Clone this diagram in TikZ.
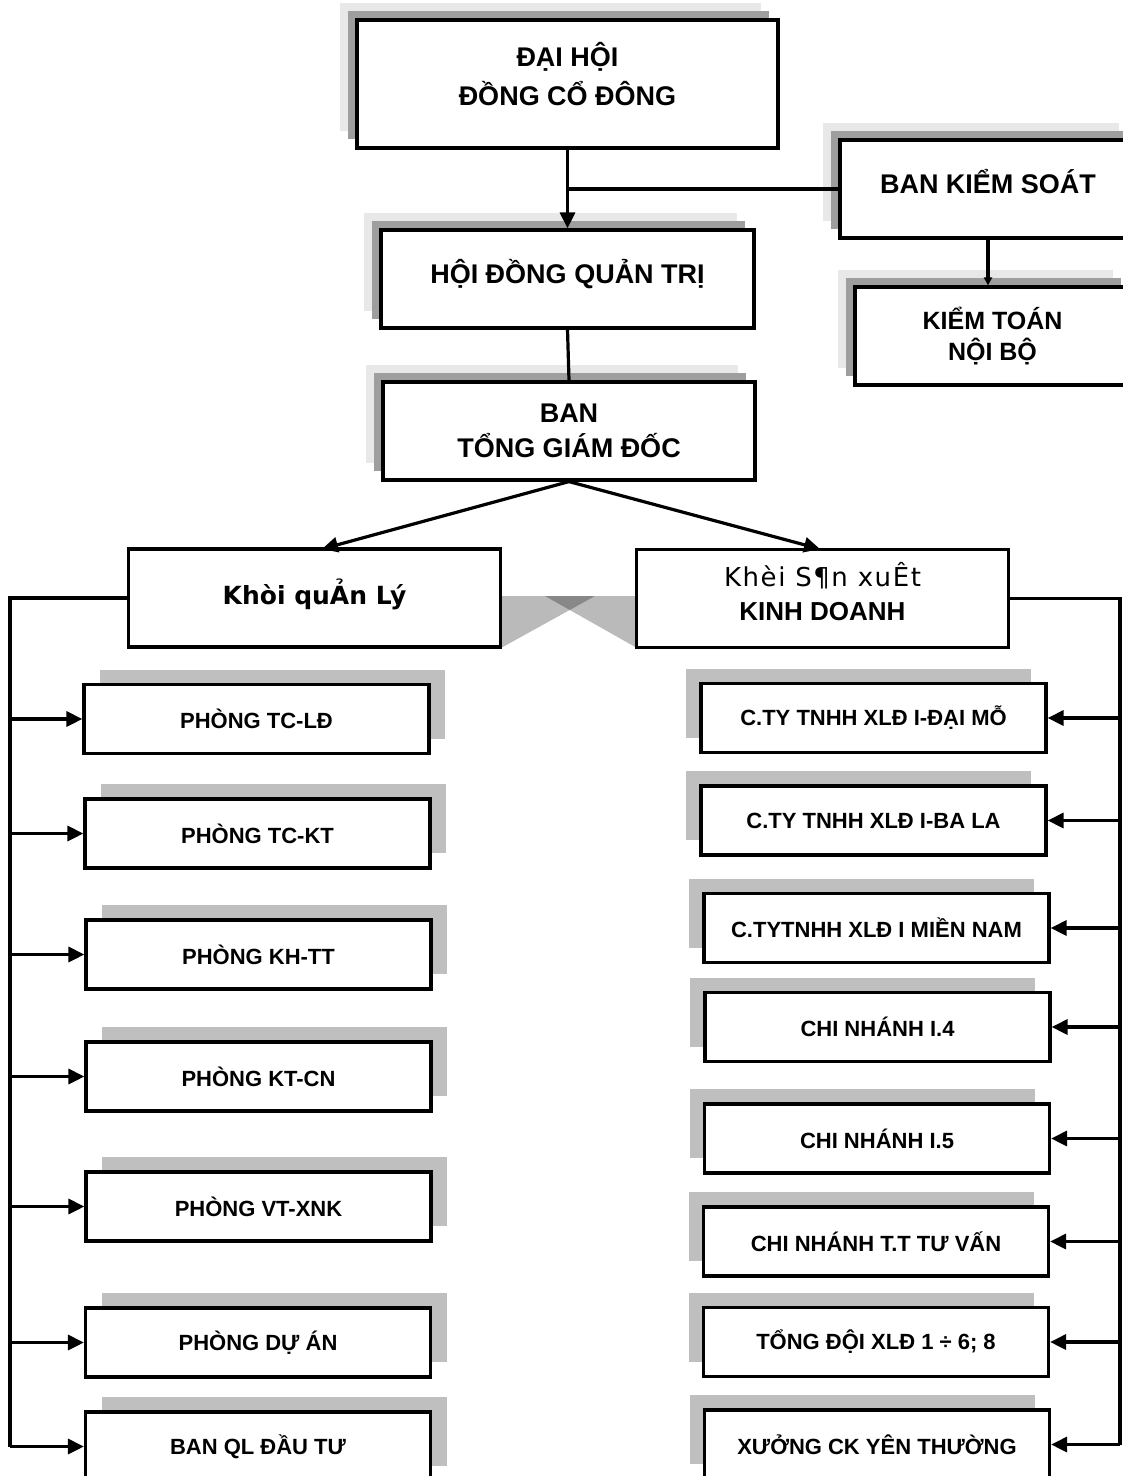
\documentclass[tikz,border=0pt]{standalone}
\usepackage{fontspec}
\setmainfont{Liberation Sans}
\newfontfamily\dejavu{DejaVu Sans}
\usepackage{tikz}
\usetikzlibrary{arrows.meta,shadows}

\begin{document}
\begin{tikzpicture}[x=0.5pt,y=-0.5pt,->,>={Triangle[length=8pt,width=7.5pt]},line width=1.6pt]
  \tikzstyle{topbox}=[draw=black,fill=white,line width=1.6pt,align=center,inner sep=0pt,
    font=\bfseries\fontsize{13.5}{17.5}\selectfont,
    general shadow={shadow xshift=-8.5pt,shadow yshift=8.5pt,fill=black!9},
    general shadow={shadow xshift=-4.5pt,shadow yshift=4.5pt,fill=black!38}]
  \tikzstyle{khoibox}=[draw=black,fill=white,line width=1.6pt,align=center,inner sep=0pt,
    minimum width=186pt,minimum height=49pt]
  \tikzstyle{leftbox}=[draw=black,fill=white,line width=1.6pt,inner sep=0pt,
    minimum width=172.5pt,minimum height=34.5pt,font=\bfseries\fontsize{11}{13}\selectfont,
    general shadow={shadow xshift=8pt,shadow yshift=7.5pt,fill=black!25}]
  \tikzstyle{rightbox}=[draw=black,fill=white,line width=1.6pt,inner sep=0pt,
    minimum width=172.5pt,minimum height=34.5pt,font=\bfseries\fontsize{11}{13}\selectfont,
    general shadow={shadow xshift=-7.5pt,shadow yshift=7.5pt,fill=black!25}]

  \path[use as bounding box,clip] (0,0) rectangle (1123,1476);

  % Nodes
  \node[topbox,minimum width=210.5pt,minimum height=64pt,text depth=10pt,
    font=\bfseries\fontsize{13.5}{19.5}\selectfont] (dhcd) at (567.5,84) {ĐẠI HỘI\\ĐỒNG CỔ ĐÔNG};
  \node[topbox,minimum width=148pt,minimum height=49pt,text depth=8pt] (bks) at (988,189) {BAN KIỂM SOÁT};
  \node[topbox,minimum width=137.5pt,minimum height=49pt,
    font=\bfseries\fontsize{12.5}{15.5}\selectfont] (ktnb) at (992.5,336) {KIỂM TOÁN\\NỘI BỘ};
  \node[topbox,minimum width=186.5pt,minimum height=49pt,text depth=8pt] (hdqt) at (567.5,279) {HỘI ĐỒNG QUẢN TRỊ};
  \node[topbox,minimum width=186pt,minimum height=49pt] (btgd) at (569,431) {BAN\\TỔNG GIÁM ĐỐC};

  % the grey cross between the two blocks
  \fill[black,opacity=.27] (501,596) -- (595,596) -- (501,648) -- cycle;
  \fill[black,opacity=.27] (545,596) -- (637,596) -- (637,648) -- cycle;

  \node[khoibox,font=\dejavu\bfseries\fontsize{12.5}{15}\selectfont,text depth=6pt] (kql) at (314.5,598) {Khòi quẢn Lý};
  \node[khoibox,text depth=7pt] (ksx) at (822.5,598.5)
    {{\dejavu\addfontfeature{LetterSpace=6}\fontsize{13}{16}\selectfont Khèi S¶n xuÊt}\\[5pt]
     {\bfseries\fontsize{13}{16}\selectfont KINH DOANH}};

  \node[leftbox] (p1) at (256.5,719) {PHÒNG TC-LĐ};
  \node[leftbox] (p2) at (257.5,833.5) {PHÒNG TC-KT};
  \node[leftbox] (p3) at (258.5,954.5) {PHÒNG KH-TT};
  \node[leftbox] (p4) at (258.5,1076.5) {PHÒNG KT-CN};
  \node[leftbox] (p5) at (258.5,1206.5) {PHÒNG VT-XNK};
  \node[leftbox] (p6) at (258,1342.5) {PHÒNG DỰ ÁN};
  \node[leftbox] (p7) at (258,1446.5) {BAN QL ĐẦU TƯ};

  \node[rightbox] (r1) at (873.5,718) {C.TY TNHH XLĐ I-ĐẠI MỖ};
  \node[rightbox] (r2) at (873.5,820.5) {C.TY TNHH XLĐ I-BA LA};
  \node[rightbox] (r3) at (876.5,928) {C.TYTNHH XLĐ I MIỀN NAM};
  \node[rightbox] (r4) at (877.5,1027) {CHI NHÁNH I.4};
  \node[rightbox] (r5) at (877,1138.5) {CHI NHÁNH I.5};
  \node[rightbox] (r6) at (876,1241.5) {CHI NHÁNH T.T TƯ VẤN};
  \node[rightbox] (r7) at (876,1342) {TỔNG ĐỘI XLĐ 1 ÷ 6; 8};
  \node[rightbox] (r8) at (877,1444.5) {XƯỞNG CK YÊN THƯỜNG};

  \coordinate (lbus) at (10,597);
  \coordinate (rbus) at (1120,600);

  % Arrows
  \draw (dhcd.south) -- (hdqt.north);
  \draw[-] (dhcd.south |- bks.west) -- (bks.west);      % side line to the control board
  \draw[-{Triangle[length=4pt,width=4pt]}] (bks.south) -- (bks.south |- ktnb.north);
  \draw[-] (hdqt.south) -- (btgd.north);
  \draw (btgd.south) -- (322,549);                    % to the management block
  \draw (btgd.south) -- (820,549);                    % to the business block

  % left bus
  \draw[-] (kql.west) -- (kql.west -| lbus) -- (p7.west -| lbus);
  \draw (p1.west -| lbus) -- (p1.west);
  \draw (p2.west -| lbus) -- (p2.west);
  \draw (p3.west -| lbus) -- (p3.west);
  \draw (p4.west -| lbus) -- (p4.west);
  \draw (p5.west -| lbus) -- (p5.west);
  \draw (p6.west -| lbus) -- (p6.west);
  \draw (p7.west -| lbus) -- (p7.west);

  % right bus
  \draw[-] (ksx.east) -- (ksx.east -| rbus) -- (r8.east -| rbus);
  \draw (r1.east -| rbus) -- (r1.east);
  \draw (r2.east -| rbus) -- (r2.east);
  \draw (r3.east -| rbus) -- (r3.east);
  \draw (r4.east -| rbus) -- (r4.east);
  \draw (r5.east -| rbus) -- (r5.east);
  \draw (r6.east -| rbus) -- (r6.east);
  \draw (r7.east -| rbus) -- (r7.east);
  \draw (r8.east -| rbus) -- (r8.east);
\end{tikzpicture}
\end{document}
